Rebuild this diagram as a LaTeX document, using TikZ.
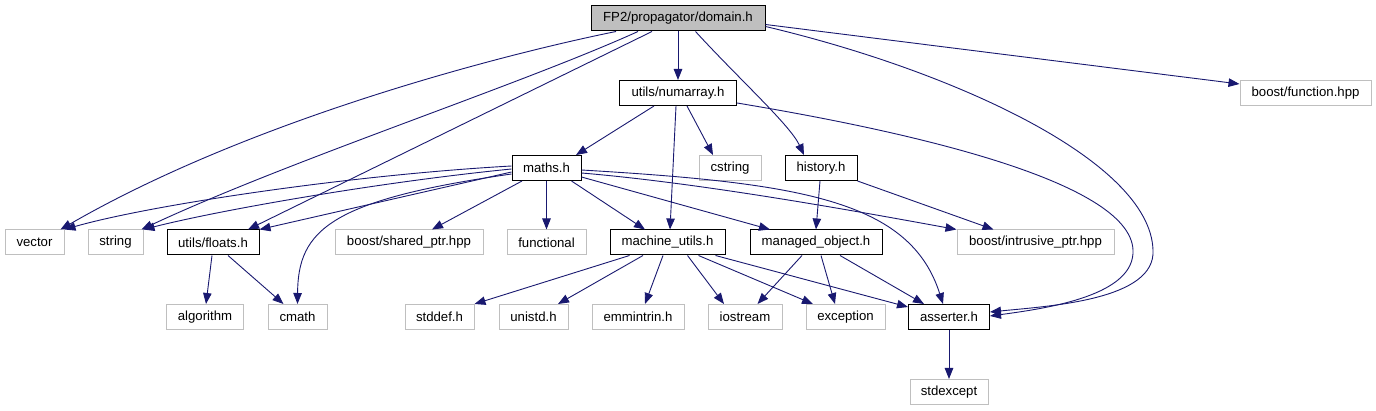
\documentclass[tikz,border=0pt]{standalone}
\usepackage{fontspec}
\setmainfont{Liberation Sans}
\usetikzlibrary{arrows.meta}
\definecolor{edgeblue}{HTML}{191970}
\definecolor{grey75}{HTML}{BFBFBF}
\begin{document}
\begin{tikzpicture}[x=1pt,y=-1pt,
  box/.style={draw=black,line width=1pt,minimum height=25pt,inner sep=0pt,font=\fontsize{13.2}{15}\selectfont},
  extbox/.style={box,draw=grey75},
  rootbox/.style={box,fill=grey75},
  edge/.style={draw=edgeblue,line width=0.9pt,-{Triangle[length=11pt,width=8.5pt]}}]
\useasboundingbox (0,0) rectangle (1376,411);
\fill[white] (0,0) rectangle (1376,411);
% nodes
\node[rootbox,minimum width=174pt] (domain) at (678,18.5) {FP2/propagator/domain.h};
\node[box,minimum width=117pt] (numarray) at (678,93) {utils/numarray.h};
\node[extbox,minimum width=131pt] (bfunc) at (1305.5,93) {boost/function.hpp};
\node[box,minimum width=69pt] (maths) at (546.5,168) {maths.h};
\node[extbox,minimum width=62pt] (cstring) at (730,168) {cstring};
\node[box,minimum width=72pt] (history) at (821,168) {history.h};
\node[extbox,minimum width=59pt] (vector) at (34.5,242.5) {vector};
\node[extbox,minimum width=55pt] (string) at (115.5,242.5) {string};
\node[box,minimum width=92pt] (floats) at (213,242.5) {utils/floats.h};
\node[extbox,minimum width=148pt] (shared) at (409,242.5) {boost/shared\_ptr.hpp};
\node[extbox,minimum width=79pt] (functional) at (546.5,242.5) {functional};
\node[box,minimum width=115pt] (machine) at (667.5,242.5) {machine\_utils.h};
\node[box,minimum width=132pt] (managed) at (816,242.5) {managed\_object.h};
\node[extbox,minimum width=157pt] (intrusive) at (1035.5,242.5) {boost/intrusive\_ptr.hpp};
\node[extbox,minimum width=77.5pt] (algorithm) at (205,317) {algorithm};
\node[extbox,minimum width=59pt] (cmath) at (297.5,317) {cmath};
\node[extbox,minimum width=69pt] (stddef) at (439.5,317) {stddef.h};
\node[extbox,minimum width=69pt] (unistd) at (533.5,317) {unistd.h};
\node[extbox,minimum width=92pt] (emmintrin) at (638,317) {emmintrin.h};
\node[extbox,minimum width=74pt] (iostream) at (745,317) {iostream};
\node[extbox,minimum width=79pt] (exception) at (845.5,317) {exception};
\node[box,minimum width=81pt] (asserter) at (949,317) {asserter.h};
\node[extbox,minimum width=78pt] (stdexcept) at (949,392) {stdexcept};
% edges from domain
\draw[edge] ([xshift=-62pt]domain.south) .. controls (500,55) and (250,120) .. ([xshift=26pt]vector.north);
\draw[edge] ([xshift=-40pt]domain.south) .. controls (520,85) and (290,160) .. ([xshift=-2pt]string.north east);
\draw[edge] ([xshift=-26pt]domain.south) -- ([xshift=35pt]floats.north);
\draw[edge] (domain.south) -- (numarray.north);
\draw[edge] ([xshift=17.5pt]domain.south) .. controls (740,80) and (790,125) .. ([xshift=-17pt]history.north);
\draw[edge] ([yshift=-8pt]domain.east) .. controls (950,70) and (1150,160) .. (1153,250) .. controls (1156,300) and (1050,306) .. ([yshift=5pt]asserter.east);
\draw[edge] ([yshift=-6pt]domain.east) -- ([yshift=9pt]bfunc.west);
% edges from numarray
\draw[edge] ([xshift=-24pt]numarray.south) -- ([xshift=29.5pt]maths.north);
\draw[edge] ([xshift=-2pt]numarray.south) -- ([xshift=2.5pt]machine.north);
\draw[edge] ([xshift=9pt]numarray.south) -- ([xshift=-17pt]cstring.north);
\draw[edge] ([yshift=-10pt]numarray.east) .. controls (900,130) and (1130,180) .. (1133,250) .. controls (1135,295) and (1050,308) .. ([yshift=1pt]asserter.east);
% edges from maths
\draw[edge] ([yshift=2pt]maths.west) .. controls (350,175) and (150,205) .. (vector.north east);
\draw[edge] ([yshift=-1pt]maths.west) .. controls (380,182) and (220,210) .. (string.north east);
\draw[edge] ([yshift=-4pt]maths.west) -- (floats.north east);
\draw[edge] ([yshift=-6pt]maths.west) .. controls (330,200) and (298,230) .. (cmath.north);
\draw[edge] ([xshift=-24.5pt]maths.south) -- ([xshift=23pt]shared.north);
\draw[edge] (maths.south) -- (functional.north);
\draw[edge] ([xshift=25pt]maths.south) -- ([xshift=-22.5pt]machine.north);
\draw[edge] ([yshift=-9pt]maths.east) -- ([xshift=-46pt]managed.north);
\draw[edge] ([yshift=-5pt]maths.east) .. controls (700,183) and (850,210) .. (intrusive.north west);
\draw[edge] ([yshift=-2pt]maths.east) .. controls (800,183) and (910,200) .. ([xshift=-6pt]asserter.north);
% edges from history
\draw[edge] ([xshift=-1pt]history.south) -- (managed.north);
\draw[edge] (history.south east) -- ([xshift=-42pt]intrusive.north);
% edges from floats
\draw[edge] ([xshift=-1pt]floats.south) -- ([xshift=1pt]algorithm.north);
\draw[edge] ([xshift=15pt]floats.south) -- ([xshift=-14pt]cmath.north);
% edges from machine_utils
\draw[edge] ([xshift=-38pt]machine.south) -- (stddef.north east);
\draw[edge] ([xshift=-24.5pt]machine.south) -- ([xshift=24.5pt]unistd.north);
\draw[edge] ([xshift=-4.5pt]machine.south) -- ([xshift=7pt]emmintrin.north);
\draw[edge] ([xshift=20pt]machine.south) -- ([xshift=-21pt]iostream.north);
\draw[edge] ([xshift=31pt]machine.south) -- ([xshift=-32.5pt]exception.north);
\draw[edge] ([xshift=48pt]machine.south) -- ([yshift=-3pt]asserter.north west);
% edges from managed_object
\draw[edge] ([xshift=-14pt]managed.south) -- ([xshift=12.5pt]iostream.north);
\draw[edge] ([xshift=5pt]managed.south) -- ([xshift=-10.5pt]exception.north);
\draw[edge] ([xshift=24pt]managed.south) -- ([xshift=-25pt]asserter.north);
% asserter
\draw[edge] (asserter.south) -- (stdexcept.north);
\end{tikzpicture}
\end{document}
